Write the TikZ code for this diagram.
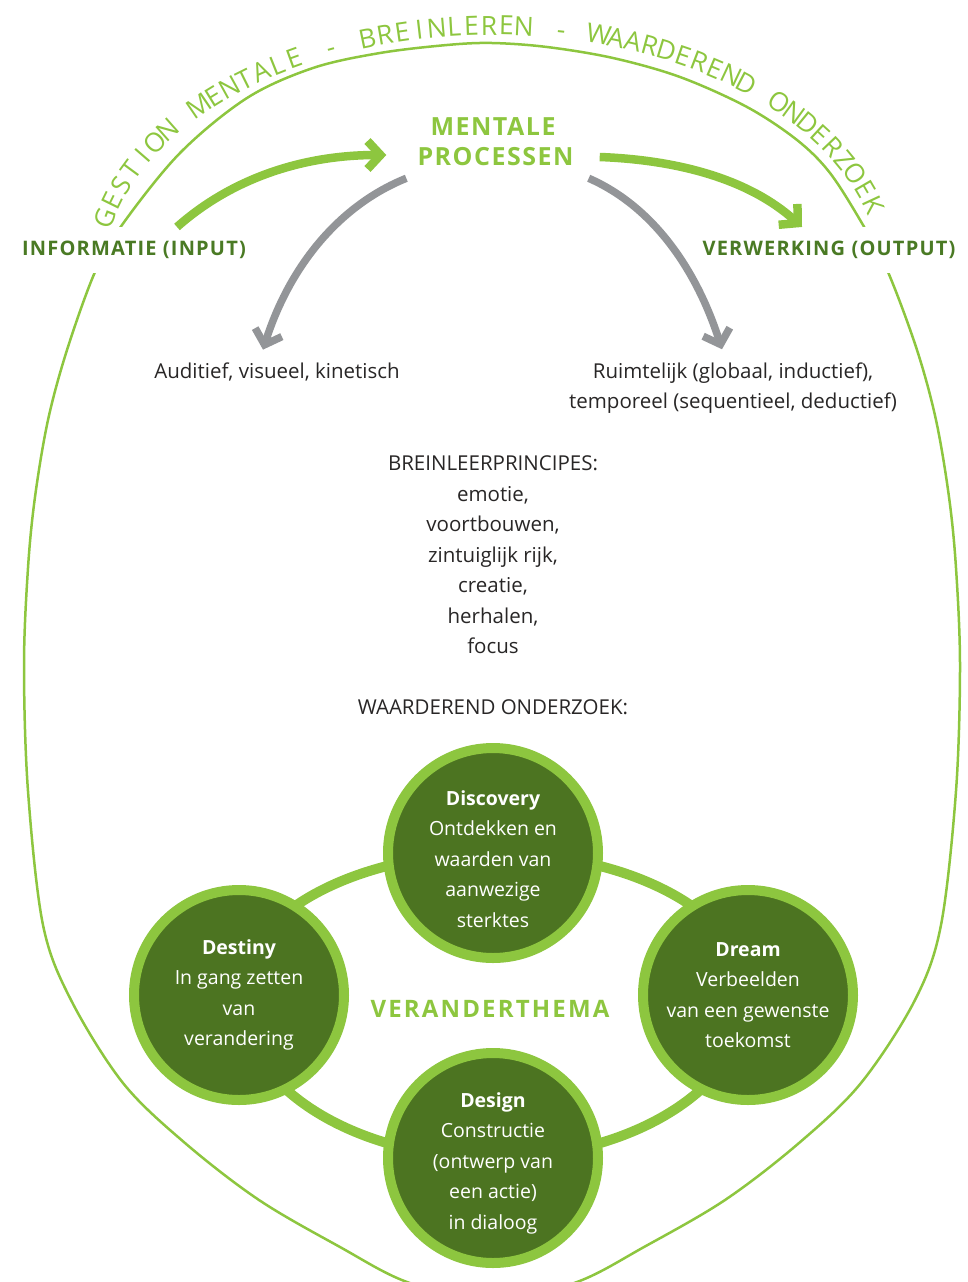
\documentclass[tikz,border=0pt]{standalone}
\usepackage{fontspec}
\setmainfont{Open Sans}
\newfontfamily\capsfont[LetterSpace=6]{Open Sans}
\newfontfamily\themafont[LetterSpace=9]{Open Sans}
\newfontfamily\arcfont{Open Sans}
\usepackage{tikz}
\usetikzlibrary{positioning,arrows.meta,backgrounds}

\definecolor{lgreen}{RGB}{141,198,63}
\definecolor{dgreen}{RGB}{76,116,33}
\definecolor{lblgreen}{RGB}{74,122,36}
\definecolor{arrgray}{RGB}{147,149,152}
\definecolor{txtgray}{RGB}{40,38,38}

% text along the top arc, one letter at a time
\newlength\chw
\newcommand\arcstyle{\arcfont\fontsize{26.5}{32}\selectfont}
\newcommand\arcsp{\hspace{3pt}}
\newcommand\arcchars{G,E,S,T,I,O,N,\arcsp,M,E,N,T,A,L,E,\arcsp,-,\arcsp,B,R,E,I,N,L,E,R,E,N,\arcsp,-,\arcsp,W,A,A,R,D,E,R,E,N,D,\arcsp,O,N,D,E,R,Z,O,E,K}

\begin{document}
\begin{tikzpicture}[
    x=1pt, y=-1pt,
    body/.style={font=\fontsize{20.5}{30.5}\selectfont, text=txtgray, align=center, inner sep=0pt},
    ttl/.style={font=\capsfont\bfseries\fontsize{25}{30}\selectfont, text=lgreen, align=center},
    io/.style={font=\capsfont\bfseries\fontsize{20}{24}\selectfont, text=lblgreen, fill=white, inner xsep=4pt, inner ysep=14pt},
    arcl/.style={font=\arcstyle, text=lgreen, anchor=base, inner sep=0pt},
    phase/.style={circle, draw=lgreen, line width=10pt, fill=dgreen, minimum size=210pt, inner sep=0pt},
    phasetxt/.style={text=white, align=center, font=\fontsize{19.5}{30.5}\selectfont, inner sep=0pt},
    ring/.style={draw=lgreen, line width=10pt},
    oval/.style={draw=lgreen, line width=2.5pt},
    garrow/.style={draw=lgreen, line width=8.5pt, -{Straight Barb[length=13pt,width=28pt,sharp]}},
    grarrow/.style={draw=arrgray, line width=7.5pt, -{Straight Barb[length=13pt,width=28pt,sharp]}},
]
    \useasboundingbox (0,0) rectangle (968,1282);

    % outer oval
    \draw[oval] plot[smooth cycle, tension=0.55] coordinates {
        (492,43) (547,47) (613,58) (680,77) (747,107) (797,140) (830,173) (863,225)
        (888,272) (917,350) (936,420) (949,497) (956,568) (960,666) (956,791)
        (941,925) (915,1000) (861,1083) (799,1143) (725,1200) (644,1247) (577,1282)
        (492,1303)
        (407,1282) (340,1247) (259,1200) (185,1143) (123,1083) (71,1000) (43,925)
        (28,791) (24,666) (28,568) (35,497) (48,420) (67,350) (95,272) (122,225)
        (180,153) (247,98) (313,68) (380,53) (447,45)};

    % labels
    \node[ttl, text width=151pt, inner xsep=31pt, inner ysep=12pt] (mp) at (493,142) {MENTALE\\PROCESSEN};
    \node[io] (info) at (134,250) {INFORMATIE (INPUT)};
    \node[io] (verw) at (829,250) {VERWERKING (OUTPUT)};
    \node[body, inner ysep=13pt] (aud) at (277,372) {Auditief, visueel, kinetisch};
    \node[body, inner ysep=13pt] (ruim) at (733,388) {Ruimtelijk (globaal, inductief),\\temporeel (sequentieel, deductief)};
    \node[body] (brein) at (493,555) {BREINLEERPRINCIPES:\\emotie,\\voortbouwen,\\zintuiglijk rijk,\\creatie,\\herhalen,\\focus};
    \node[body] (wo) at (493,707) {WAARDEREND ONDERZOEK:};

    % arc text: ellipse centre (492,275), radii 388 x 240, from 193 to 344.3 deg
    \gdef\arcsum{0}
    \foreach \ch in \arcchars {
        \settowidth{\chw}{\arcstyle\ch}
        \pgfmathsetmacro\tmp{\arcsum+\chw}
        \global\let\arcsum\tmp
    }
    \pgfmathsetmacro\arcgap{(876-\arcsum)/50}
    \gdef\arct{193}
    \foreach \ch [count=\i] in \arcchars {
        \settowidth{\chw}{\arcstyle\ch}
        \pgfmathsetmacro\v{100*sqrt((3.88*sin(\arct))^2+(2.4*cos(\arct))^2)}
        \pgfmathsetmacro\tmid{\arct+deg(0.5*\chw/\v)}
        \pgfmathsetmacro\rot{atan2(-2.4*cos(\tmid),-3.88*sin(\tmid))}
        \node[arcl, rotate=\rot] (arc\i) at ({492+388*cos(\tmid)},{275+240*sin(\tmid)}) {\ch};
        \pgfmathsetmacro\v{100*sqrt((3.88*sin(\tmid))^2+(2.4*cos(\tmid))^2)}
        \pgfmathsetmacro\tnew{\tmid+deg((0.5*\chw+\arcgap)/\v)}
        \global\let\arct\tnew
    }

    % arrows
    \draw[garrow] ([xshift=43pt]info.north) .. controls (230,180) and (300,155) .. ([yshift=-13pt]mp.west);
    \draw[garrow] ([yshift=-15pt]mp.east) .. controls (680,160) and (750,180) .. ([xshift=-27pt]verw.north);
    \draw[grarrow] ([xshift=20pt]mp.south west) .. controls (340,205) and (290,265) .. ([xshift=-14pt]aud.north);
    \draw[grarrow] ([xshift=-11pt]mp.south east) .. controls (650,205) and (695,265) .. ([xshift=-11pt]ruim.north);

    % waarderend onderzoek cycle
    \node[phase] (disc) at (493,853) {};
    \node[phase] (dest) at (239,995) {};
    \node[phase] (dream) at (748,995) {};
    \node[phase] (design) at (493,1158) {};
    \begin{scope}[on background layer]
        \draw[ring] (dest.center) arc[start angle=180, end angle=360, x radius=254.5, y radius=142];
        \draw[ring] (dream.center) arc[start angle=0, end angle=180, x radius=254.5, y radius=163];
    \end{scope}
    \node[phasetxt] (disctxt) at ([yshift=-6pt]disc.center) {\textbf{Discovery}\\Ontdekken en\\waarden van\\aanwezige\\sterktes};
    \node[phasetxt] (desttxt) at (dest.center) {\textbf{Destiny}\\In gang zetten\\van\\verandering};
    \node[phasetxt] (dreamtxt) at (dream.center) {\textbf{Dream}\\Verbeelden\\van een gewenste\\toekomst};
    \node[phasetxt] (designtxt) at ([yshift=-5pt]design.center) {\textbf{Design}\\Constructie\\(ontwerp van\\een actie)\\in dialoog};
    \node[ttl, font=\themafont\bfseries\fontsize{24}{28}\selectfont] (thema) at (490,1009) {VERANDERTHEMA};
\end{tikzpicture}
\end{document}
